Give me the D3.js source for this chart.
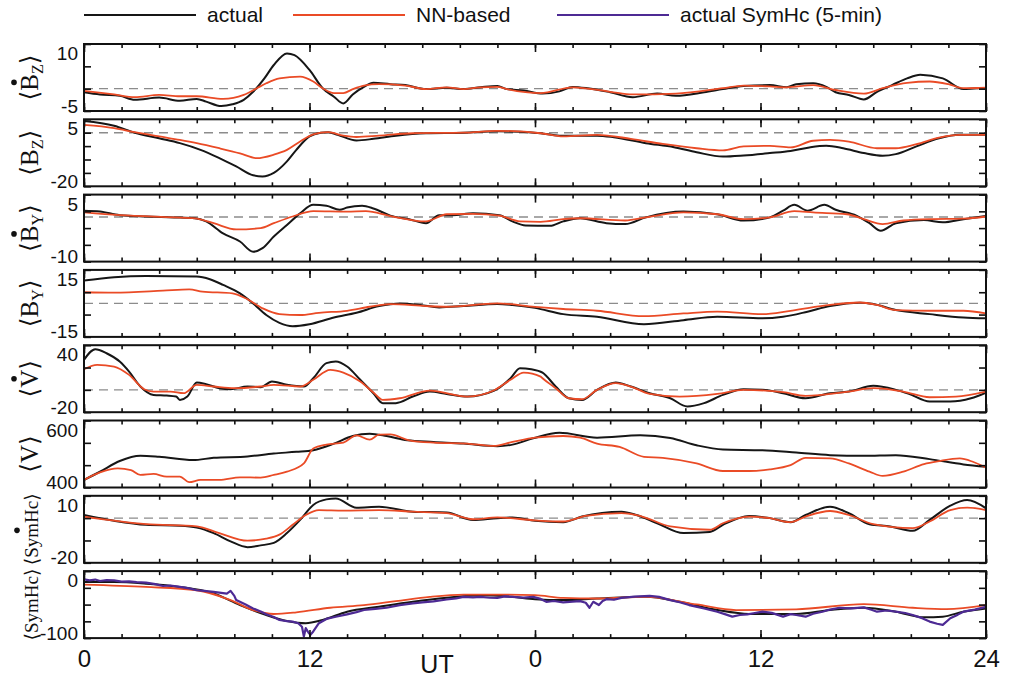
<!DOCTYPE html>
<html>
<head>
<meta charset="utf-8">
<script src="https://cdn.jsdelivr.net/npm/d3@7"></script>
<style>
  body { margin: 0; background: #fff; }
  svg { display: block; font-family: "Liberation Sans", Arial, sans-serif; }
</style>
</head>
<body>
<div id="chart"></div>
<script>
"use strict";

// ---- data (hours since start, value) ----
const xTickValues = [0, 12, 24, 36, 48];
const xTickLabels = ["0", "12", "0", "12", "24"];
const yDomains = [[-5, 10], [-20, 5], [-10, 5], [-15, 15], [-20, 40], [400, 600], [-20, 10], [-100, 0]];
const yEndLabels = [["-5", "10"], ["-20", "5"], ["-10", "5"], ["-15", "15"], ["-20", "40"], ["400", "600"], ["-20", "10"], ["-100", "0"]];
const yTickIntervals = [3, 5, 4, 3, 3, 3, 3, 4];
const zeroLines = [true, true, true, true, true, false, true, false];
const legendNames = ["actual", "NN-based", "actual SymHc (5-min)"];

const bzDotActual = [[0,-0.8],[0.85,-1.3],[1.9,-1.6],[2.7,-2.5],[4,-2],[5.1,-2.7],[6,-2.3],[6.5,-2.9],[7.3,-3.9],[7.9,-3.5],[8.5,-2.5],[9,-0.7],[9.6,2.3],[10.1,5.3],[10.8,7.9],[11.2,7.5],[12,4.2],[12.7,0.1],[13.3,-1.8],[13.8,-3.3],[14.3,-1.3],[14.9,0.4],[15.4,1.3],[16.3,1],[17.1,0.8],[18.2,-0.1],[19.3,0.2],[20.2,-0.1],[21.1,0.3],[22,0.6],[22.5,-0.1],[23.4,-0.4],[24.4,-1.1],[25.3,-0.6],[26,0.4],[26.8,0.1],[28,-0.8],[29.2,-1.9],[30.5,-1.1],[31.5,-1.6],[33,-0.8],[34,-0.1],[35.1,0.6],[36.5,0.8],[37.4,0.3],[37.9,1],[38.8,1.2],[39.5,0.4],[40,-0.8],[40.7,-1.4],[41.5,-2.4],[42.2,-0.7],[43,0.8],[43.8,2.3],[44.5,3.1],[45.7,2.3],[46.8,-0.1],[47.5,0.1],[48,0.1]];
const bzDotNN = [[0,-0.5],[1.6,-1.3],[2.7,-1.9],[4,-1.4],[5.1,-1.7],[6,-1.7],[7.4,-2.3],[8.5,-1.4],[9.2,0.1],[9.7,1.2],[10.4,2.3],[11.5,2.7],[12.2,1.6],[12.7,0.1],[13.3,-1],[13.8,-1],[14.3,-0.1],[14.9,0.7],[15.7,1],[17.1,0.7],[18.2,-0.1],[19.3,0.3],[20.2,-0.1],[21.1,0.3],[22,0.4],[22.5,-0.1],[24.3,-1],[26,0.3],[28,-0.7],[29.2,-1.3],[31.5,-1.1],[34,0.1],[35.1,0.7],[36.5,0.5],[37.4,0.3],[38.8,0.8],[40,-0.3],[41.5,-1.1],[42.5,0.1],[43.8,1.3],[45,1.6],[46,1],[46.8,0.1],[48,0.2]];

const bzActual = [[0,4.4],[1.6,2.6],[2.7,0],[4,-2.1],[5.1,-3.9],[6.2,-6.4],[7.2,-9.5],[8.1,-12.6],[9,-15.9],[9.5,-16.3],[10.1,-15],[10.8,-10.7],[11.3,-6.4],[12,-1.4],[12.6,0],[13,0.2],[13.5,-0.8],[14.5,-2.9],[15.4,-2.3],[16.6,-1.1],[18.2,-0.2],[20.2,0],[22,0.5],[23.2,0.4],[24.3,-0.2],[25.3,-1.1],[27.3,-1.1],[28.2,-1.7],[29.9,-3.9],[31.4,-5.4],[32.6,-7.3],[34,-8.9],[35.1,-8.5],[36.5,-7.6],[37.6,-6.8],[38.6,-5.5],[39.5,-4.9],[40.4,-5.8],[41.5,-7.6],[42.5,-8.6],[43.2,-8],[44.3,-5.1],[45.5,-2.1],[46.6,-0.8],[48,-0.8]];
const bzNN = [[0,2.9],[1.6,1.7],[2.7,0.2],[4,-1.4],[5.1,-2.7],[6,-3.9],[7.2,-5.8],[8.3,-7.7],[9.2,-9.5],[10.1,-8.2],[10.8,-6.4],[11.5,-3.3],[12.2,-0.6],[13,0.2],[13.8,-1.1],[14.5,-1.6],[15.7,-1.1],[17.5,-0.2],[20.2,0],[22,0.7],[24.3,-0.2],[25.5,-1.4],[27.3,-0.8],[29.1,-2.3],[30.8,-4.2],[32.6,-5.8],[34,-6.6],[35.1,-5.1],[36.5,-4.9],[37.6,-5.5],[38.8,-3],[39.7,-2.7],[40.7,-3.3],[42.2,-5.8],[43.2,-5.8],[44.3,-4.3],[45.5,-1.8],[46.6,-0.8],[48,-0.8]];

const byDotActual = [[0,1.4],[0.85,1.2],[1.9,0.4],[3.3,0.1],[4.8,-0.1],[5.9,-0.3],[6.5,-1],[7.4,-3.7],[8.3,-5.5],[9,-7.8],[9.5,-7],[10.1,-4.4],[10.8,-1.8],[11.5,0.8],[12.2,2.7],[12.9,2.5],[13.6,1.6],[14,2.1],[14.8,2.5],[15.4,1.9],[16.3,0.3],[17.3,-0.5],[18.2,-1.4],[18.9,0.4],[19.6,0.4],[20.7,0.8],[22.1,0.4],[22.8,-1],[23.5,-1.9],[24.8,-2],[25.5,-1],[26.4,-0.3],[27.8,-1.4],[28.8,-1.6],[29.9,-0.1],[31.9,1.2],[33.7,0.6],[35.1,-0.8],[36.5,-0.1],[37.2,1.4],[37.8,2.7],[38.5,1.4],[39.4,2.7],[40,1.6],[41.1,0.3],[41.8,-1.4],[42.4,-3.1],[43.2,-1.4],[44.7,-0.7],[45.7,-1.2],[46.8,-0.5],[48,0.2]];
const byDotNN = [[0,1],[1.9,0.4],[4.8,-0.1],[5.9,-0.3],[6.9,-1.4],[8.1,-2.8],[9.4,-2.5],[10.1,-1.4],[11.1,0.1],[12.2,1.3],[14,1.2],[15,1.3],[16.3,0.2],[18.2,-1],[19.3,0.6],[20.7,0.7],[22.1,0.3],[23.2,-1],[24.3,-1.1],[25.5,-0.5],[26.4,-0.3],[28.8,-0.8],[29.9,-0.1],[31.9,1],[33.7,0.6],[35.1,-0.5],[36.5,-0.1],[37.8,1.3],[38.8,1],[40.6,0.6],[41.5,-0.5],[42.5,-1.6],[43.6,-0.8],[45,-0.5],[46.8,-0.4],[48,0.1]];

const byActual = [[0,10.2],[1.6,11.7],[3.3,12.3],[6,12],[6.7,10.8],[7.4,8.3],[8.3,4.5],[9,0],[9.7,-5.2],[10.4,-8.7],[11.1,-10.2],[12,-9.3],[13.3,-6.3],[14.5,-4.2],[15.7,-1.2],[16.8,0],[17.9,-0.7],[18.9,-1.8],[20.2,-1.2],[22,-0.3],[22.8,-0.7],[24,-2],[25.5,-4.8],[27.3,-6],[29.8,-9.3],[31.9,-7.5],[33.7,-6],[36.1,-6.7],[37.2,-6],[38.5,-3.7],[39.7,-1.2],[41.3,0.3],[42,-0.3],[43.2,-3],[45,-4.8],[46.8,-6.3],[48,-6.7]];
const byNN = [[0,5],[1.6,4.8],[4.2,5.7],[5.6,6.3],[6.3,5.3],[7.9,4.5],[8.6,2.3],[9.5,-2.2],[10.4,-4.8],[11.5,-5.2],[12.5,-4.2],[14,-3.3],[15.2,-1.5],[16.3,-0.3],[18.2,-1.2],[19.3,-1.5],[22,0],[24,-1.6],[25.5,-2.5],[27.3,-3.3],[29.8,-5.7],[31.9,-4.5],[33.7,-3.7],[36.1,-4.8],[37.6,-3.3],[39.7,-0.7],[41.3,0.4],[42.2,-0.7],[43.2,-3],[45,-3.3],[46.8,-3.3],[48,-4.5]];

const vDotActual = [[0,26.9],[0.6,36.4],[1.2,32.8],[1.9,25.4],[2.4,16.4],[3,3],[3.7,-4.5],[4.4,-5.1],[4.9,-6],[5.1,-9],[5.5,-6],[6,6.6],[6.5,5.1],[7.2,1.5],[7.8,0.6],[8.7,3],[9.4,2.4],[10,7.5],[10.8,4.5],[11.7,3],[12.2,10.4],[12.9,23.9],[13.4,25.4],[14,20.9],[14.7,9],[15.4,-3],[15.9,-11.9],[16.6,-11.9],[17.5,-6],[18.4,-1.5],[19.3,-3.6],[20.4,-6],[21.8,-0.9],[22.7,10.4],[23.2,19.4],[23.8,18.5],[24.4,15.5],[25.1,3],[25.8,-7.5],[26.5,-9],[27.3,0],[28.3,6.6],[29.1,3],[30.1,-3],[31.2,-7.5],[32.1,-14.9],[33,-11.9],[34,-4.5],[35.1,0.6],[36.1,0],[37.2,-3],[38.4,-7.5],[39.7,-3],[40.7,-1.5],[42,3.6],[43.2,0],[43.9,-3.6],[45,-10.4],[46.1,-10.4],[47.2,-7.5],[48,-2.4]];
const vDotNN = [[0,18.5],[0.7,22.4],[1.6,20.9],[2.4,13.4],[3.2,0.6],[3.7,-1.5],[4.6,-1.5],[5.3,-3],[6,4.5],[6.9,3],[8,1.5],[9.4,3],[10.1,4.5],[11.5,3],[12.2,9],[13.1,17.9],[13.8,15.5],[14.7,7.5],[15.4,-2.4],[15.9,-9],[16.8,-7.5],[18.4,-0.6],[20.4,-6],[21.8,-0.6],[22.7,9],[23.4,15.5],[24.3,11.9],[24.4,10.4],[25.1,1.5],[25.8,-7.5],[26.5,-8.4],[27.3,0],[28.3,6],[29.1,3],[30.1,-3.6],[31.7,-6],[33.7,-3.6],[35.1,0],[37.2,-2.1],[38.4,-5.4],[40.7,-1.5],[42,1.5],[43.6,-1.5],[45,-6.6],[46.4,-6],[48,-1.5]];

const vActual = [[0,422.7],[0.85,447],[1.9,479],[3,494.6],[4,491.6],[5.8,481.8],[6.9,488.7],[8.7,492.6],[10.1,501.5],[11.3,506.4],[12.2,511.3],[13.3,531],[14.3,553.7],[15.2,560.6],[16.1,553.7],[17.2,540.9],[18.6,536],[20.2,531],[22,523.2],[22.8,528],[23.9,547],[25.3,563.5],[27.3,548.8],[29.6,555.7],[31.2,547.8],[32.6,526],[34,513.3],[36.1,511.3],[37.9,504.4],[39.7,496.6],[41.5,494.6],[43.2,496.6],[45,484.7],[46.8,469],[48,462]];
const vNN = [[0,422.7],[0.85,445],[1.8,457],[2.5,452],[3,437.4],[3.7,440.4],[4.4,432.5],[5.1,432.5],[5.6,415.8],[6.2,422.7],[7.2,422.7],[8.3,430.5],[9.4,429.6],[10.1,437.4],[10.8,447.3],[11.7,472],[12.2,516.3],[12.9,528.1],[13.8,534],[14.5,555.7],[15.2,542.9],[15.7,557.6],[16.3,558.6],[17.3,540.9],[18.6,534],[20.4,531],[21.8,524.1],[22.8,536],[24,549],[25.5,553.7],[26.4,548.8],[27.3,531],[28.5,521.2],[29.8,491.6],[30.8,488.7],[32.6,471.9],[34,449.3],[35.4,449.3],[36.5,454.2],[37.6,467],[38.4,488.7],[39.7,486.7],[40.7,471.9],[41.8,447.3],[42.5,434.5],[43.6,447.3],[44.7,469.9],[45.5,478.8],[46.6,486.7],[47.3,476.8],[48,459.1]];

const symDotActual = [[0,1.4],[1.6,-1.2],[3.3,-3],[5.1,-3.4],[6,-4.2],[6.9,-6.7],[7.8,-10.4],[8.7,-13],[9.4,-12.2],[10.1,-11.1],[10.8,-6.7],[11.5,-0.8],[12.2,5.9],[12.9,8.4],[13.4,8.8],[14.5,4.7],[15.7,5.1],[17.5,2.9],[19.3,2.5],[20.7,-0.8],[22,0],[22.8,0.3],[24,-1.2],[25.5,-1.8],[26.5,0.7],[28.6,2.9],[29.4,1.4],[30.5,-2.3],[31.9,-6.7],[33.3,-6.2],[34,-3],[35.4,1],[36.5,0],[37.6,-1.8],[38.4,1.4],[39.7,5.1],[40.7,2.2],[41.8,-2.7],[42.9,-3.7],[44.1,-5.7],[45,-0.8],[46.1,5.6],[47,8.1],[48,4.4]];
const symDotNN = [[0,0.7],[3.3,-2.7],[6,-3.7],[7.2,-6.7],[8.7,-10.1],[9.7,-9.2],[10.4,-7.4],[11.1,-3],[11.8,1.4],[12.5,3.6],[13.8,3.4],[15.7,3.6],[17.5,2.9],[19.3,2.2],[20.7,-0.5],[22,0.3],[24,-1],[25.5,-1.5],[26.7,1],[28.6,2.2],[29.7,0.7],[31.2,-3.7],[33.3,-5.2],[34,-2.3],[35.4,0.7],[36.5,0],[37.6,-1.8],[38.4,0.7],[39.7,3.2],[40.7,1.4],[42,-2.7],[44.1,-4.5],[45,-1.5],[46.1,3.6],[47,4.7],[48,3.6]];

const symActual = [[0,-16.3],[1.6,-16.3],[3.3,-18.7],[5.1,-23.6],[6.9,-33.5],[8.3,-50.7],[9.7,-65.5],[10.8,-74.4],[11.8,-77.8],[12.7,-72.9],[14,-60.6],[15.7,-53.2],[17.5,-45.8],[19.3,-39.9],[21.1,-36],[22.8,-38.4],[24,-42],[25.5,-43.3],[27.3,-40.9],[29.9,-38.4],[31.7,-45.8],[33.7,-58.1],[35.4,-64],[37.9,-64],[39.7,-58.1],[41.5,-54.7],[43.2,-60.6],[44.7,-69],[45.7,-68],[46.8,-60.6],[48,-55.7]];
const symNN = [[0,-20.2],[3.3,-23.6],[6,-28.6],[7.8,-43.3],[9,-58.1],[10.1,-64],[11.3,-61.6],[13.1,-54.7],[14.9,-50.7],[16.6,-44.8],[18.4,-38.4],[20.2,-35],[22,-35],[24,-36],[25.5,-39.9],[27.3,-40.9],[29.9,-38.4],[32.6,-49.8],[34.7,-58.1],[37.9,-57.1],[41.5,-49.3],[44.1,-54.7],[45.9,-56.7],[48,-50.7]];
const symActual5min = [[0,-12.3],[0.3,-13.8],[0.6,-12.6],[0.85,-14.8],[1.2,-13.5],[1.6,-13.8],[2,-15.6],[2.4,-15.3],[2.8,-16.4],[3.3,-17.2],[3.8,-19.5],[4.2,-22.2],[4.6,-21.5],[5.1,-23.6],[5.6,-25.8],[6,-28.6],[6.4,-29.4],[6.9,-31],[7.3,-32.4],[7.6,-33.5],[7.8,-29.5],[8,-37],[8.1,-43.3],[8.6,-50],[9,-55.7],[9.4,-60.2],[9.7,-64.5],[10.1,-68.5],[10.4,-72.9],[10.8,-74.8],[11.1,-75.4],[11.4,-77.8],[11.6,-83],[11.7,-97.5],[11.8,-85.2],[11.95,-92],[12.05,-95.1],[12.2,-90.1],[12.5,-77.8],[12.9,-71.4],[13.4,-68.2],[14,-64.5],[14.5,-61.2],[14.9,-58.1],[15.5,-56.4],[16.1,-54.7],[16.8,-50.7],[17.5,-48.3],[18,-46.8],[18.6,-45.2],[19.3,-42.4],[19.8,-40.6],[20.2,-38.4],[20.7,-39.2],[21.1,-38.4],[21.6,-39.8],[22,-39.9],[22.4,-37.8],[22.8,-38.4],[23.4,-39.5],[23.9,-38.4],[24.3,-41.5],[24.6,-45.8],[25,-44.6],[25.5,-46.8],[26,-45.6],[26.4,-44.8],[26.7,-47.2],[26.9,-54.7],[27.1,-45.8],[27.4,-50.7],[27.6,-44.5],[27.8,-41.9],[28.2,-42.8],[28.6,-39.9],[29.3,-38.2],[30.1,-36.9],[30.6,-38.5],[31.2,-43.3],[31.7,-46.5],[32.2,-50.7],[33,-55.8],[33.7,-60.6],[34.1,-64.2],[34.5,-68],[34.9,-65.5],[35.3,-64.5],[35.7,-62.5],[36.1,-60.6],[36.6,-62.4],[37.2,-68],[37.6,-64.2],[37.9,-65.5],[38.4,-68],[38.8,-63.6],[39.3,-60.6],[39.7,-57.4],[40.2,-54.7],[40.8,-55.6],[41.5,-54.2],[41.9,-57.8],[42.2,-60.6],[42.7,-58.8],[43.2,-60.6],[43.7,-62.5],[44.1,-65.5],[44.6,-70.2],[45,-75.4],[45.4,-78.6],[45.7,-80.3],[46.1,-70.4],[46.5,-65],[46.8,-60.6],[47.4,-57.5],[48,-53.2]];

// ---- layout ----
const width = 1010, height = 677;
const plotLeft = 84, plotRight = 986;
const panelTop0 = 44, panelStep = 75.3, panelHeight = 67;
const colors = { actual: "#161616", nn: "#ea4b26", sym: "#4d2a94", dash: "#8c8c8c" };

const panelSeries = [
  [bzDotActual, bzDotNN], [bzActual, bzNN], [byDotActual, byDotNN], [byActual, byNN],
  [vDotActual, vDotNN], [vActual, vNN], [symDotActual, symDotNN], [symActual, symNN, symActual5min]
];
const seriesStyle = {
  actual: { color: colors.actual, width: 2 },
  nn: { color: colors.nn, width: 1.8 },
  sym: { color: colors.sym, width: 2.2 }
};
const panelKinds = [
  ["actual", "nn"], ["actual", "nn"], ["actual", "nn"], ["actual", "nn"],
  ["actual", "nn"], ["actual", "nn"], ["actual", "nn"], ["actual", "nn", "sym"]
];
const axisTitles = [
  { base: "B", sub: "Z", dot: true }, { base: "B", sub: "Z", dot: false },
  { base: "B", sub: "Y", dot: true }, { base: "B", sub: "Y", dot: false },
  { base: "V", sub: "", dot: true }, { base: "V", sub: "", dot: false },
  { base: "SymHc", sub: "", dot: true }, { base: "SymHc", sub: "", dot: false }
];

const svg = d3.select("#chart").append("svg")
  .attr("width", width).attr("height", height);

const xScale = d3.scaleLinear().domain([0, 48]).range([plotLeft, plotRight]);
const minorHours = d3.range(0, 49, 2);

yDomains.forEach(function(dom, i) {
  const top = panelTop0 + i * panelStep;
  const bottom = top + panelHeight;
  const yScale = d3.scaleLinear().domain(dom).range([bottom, top]);
  const g = svg.append("g");

  svg.append("clipPath").attr("id", "clip" + i)
    .append("rect")
      .attr("x", plotLeft).attr("y", top)
      .attr("width", plotRight - plotLeft).attr("height", panelHeight);

  if (zeroLines[i]) {
    g.append("line")
      .attr("x1", plotLeft).attr("x2", plotRight)
      .attr("y1", yScale(0)).attr("y2", yScale(0))
      .attr("stroke", colors.dash).attr("stroke-width", 1.4)
      .attr("stroke-dasharray", "9,6");
  }

  const line = d3.line()
    .x(d => xScale(d[0]))
    .y(d => yScale(d[1]));

  panelSeries[i].forEach(function(s, k) {
    const kind = panelKinds[i][k];
    line.curve(kind === "sym" ? d3.curveLinear : d3.curveMonotoneX);
    g.append("path")
      .datum(s)
      .attr("clip-path", "url(#clip" + i + ")")
      .attr("d", line)
      .attr("fill", "none")
      .attr("stroke", seriesStyle[kind].color)
      .attr("stroke-width", seriesStyle[kind].width)
      .attr("stroke-linejoin", "round");
  });

  // x ticks, inward, top and bottom
  const tickStyle = function(sel) {
    sel.select(".domain").remove();
    sel.selectAll(".tick line").attr("stroke", "#111").attr("stroke-width", 1.6);
  };
  g.append("g").attr("transform", "translate(0," + bottom + ")")
    .call(d3.axisTop(xScale).tickValues(minorHours).tickSize(4).tickFormat(""))
    .call(tickStyle);
  g.append("g").attr("transform", "translate(0," + top + ")")
    .call(d3.axisBottom(xScale).tickValues(minorHours).tickSize(4).tickFormat(""))
    .call(tickStyle);
  g.append("g").attr("transform", "translate(0," + bottom + ")")
    .call(d3.axisTop(xScale).tickValues(xTickValues).tickSize(8).tickFormat(""))
    .call(tickStyle);
  g.append("g").attr("transform", "translate(0," + top + ")")
    .call(d3.axisBottom(xScale).tickValues(xTickValues).tickSize(8).tickFormat(""))
    .call(tickStyle);

  // y ticks, inward, both sides
  const n = yTickIntervals[i];
  const yTicks = d3.range(n + 1).map(k => dom[0] + k * (dom[1] - dom[0]) / n);
  g.append("g").attr("transform", "translate(" + plotLeft + ",0)")
    .call(d3.axisRight(yScale).tickValues(yTicks).tickSize(7).tickFormat(""))
    .call(tickStyle);
  g.append("g").attr("transform", "translate(" + plotRight + ",0)")
    .call(d3.axisLeft(yScale).tickValues(yTicks).tickSize(7).tickFormat(""))
    .call(tickStyle);

  // frame
  g.append("rect")
    .attr("x", plotLeft).attr("y", top)
    .attr("width", plotRight - plotLeft).attr("height", panelHeight)
    .attr("fill", "none").attr("stroke", "#111").attr("stroke-width", 2);

  // end labels of y axis
  g.append("text")
    .attr("x", 78).attr("y", yScale(dom[1]) + 16)
    .attr("text-anchor", "end").style("font-size", "19px").attr("fill", "#111")
    .text(yEndLabels[i][1]);
  g.append("text")
    .attr("x", 78).attr("y", yScale(dom[0]) + 1.5)
    .attr("text-anchor", "end").style("font-size", "19px").attr("fill", "#111")
    .text(yEndLabels[i][0]);

  // rotated axis title
  const t = axisTitles[i];
  const long = t.base.length > 1;
  const lg = g.append("g")
    .attr("transform", "translate(38," + (top + panelHeight / 2) + ") rotate(-90)");
  const txt = lg.append("text")
    .attr("text-anchor", "middle")
    .style("font-family", '"Liberation Serif", "DejaVu Serif", serif')
    .style("font-size", long ? "19px" : "25px").attr("fill", "#111");
  txt.append("tspan").text("\u27E8");
  txt.append("tspan").text(t.base);
  if (t.sub) txt.append("tspan").attr("dy", 5).style("font-size", "16px").text(t.sub);
  txt.append("tspan").attr("dy", t.sub ? -5 : 0).text("\u27E9");
  if (t.dot) {
    const idx = long ? 3 : 1;
    const ext = txt.node().getExtentOfChar(idx);
    lg.append("circle")
      .attr("cx", ext.x + ext.width / 2).attr("cy", long ? -21 : -24)
      .attr("r", 2.8).attr("fill", "#111");
  }

  if (i === yDomains.length - 1) {
    const xa = g.append("g").attr("transform", "translate(0," + bottom + ")")
      .call(d3.axisBottom(xScale).tickValues(xTickValues).tickSize(0).tickPadding(12)
        .tickFormat((d, j) => xTickLabels[j]));
    xa.select(".domain").remove();
    xa.selectAll("text").style("font-size", "24px").attr("fill", "#111")
      .style("font-family", '"Liberation Sans", Arial, sans-serif');
    g.append("text")
      .attr("x", 437).attr("y", 673)
      .attr("text-anchor", "middle").style("font-size", "25px").attr("fill", "#111")
      .text("UT");
  }
});

// legend
const legendX = [84, 293, 557];
const legendColors = [colors.actual, colors.nn, colors.sym];
const legend = svg.append("g");
legendNames.forEach(function(name, i) {
  legend.append("line")
    .attr("x1", legendX[i]).attr("x2", legendX[i] + 112)
    .attr("y1", 15).attr("y2", 15)
    .attr("stroke", legendColors[i]).attr("stroke-width", 2.2);
  legend.append("text")
    .attr("x", legendX[i] + 123).attr("y", 22)
    .style("font-size", "21px").attr("fill", "#111")
    .text(name);
});
</script>
</body>
</html>
